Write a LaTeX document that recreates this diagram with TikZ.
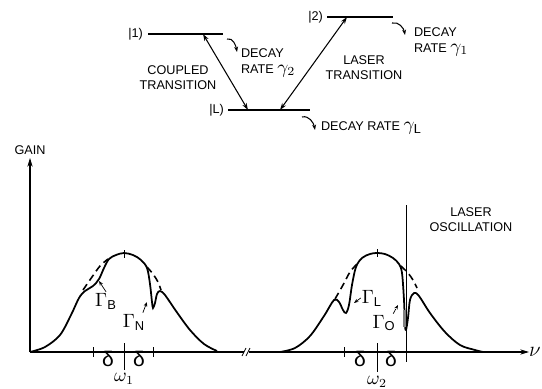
\documentclass[tikz,border=0pt]{standalone}
\usepackage{fontspec}
\setmainfont{Liberation Sans}
\usetikzlibrary{arrows.meta, positioning}

\newcommand{\bigmath}[1]{{\fontsize{10.5}{11}\selectfont$#1$}}

\begin{document}
\begin{tikzpicture}[
      x=0.02cm, y=-0.02cm,
      lbl/.style={font=\fontsize{7.2}{8.6}\selectfont, inner sep=1pt, align=center},
      gam/.style={font=\fontsize{10.5}{11}\selectfont, inner sep=0.5pt},
      sym/.style={font=\fontsize{12}{12}\selectfont, inner sep=0.5pt},
      level/.style={line width=0.9pt},
      trans/.style={{Stealth[length=4pt,width=2.6pt]}-{Stealth[length=4pt,width=2.6pt]}, semithick},
      decay/.style={-{Stealth[length=3pt,width=2.2pt]}, semithick},
      ptr/.style={-{Stealth[length=2.6pt,width=2pt]}, thin},
      axis/.style={semithick},
      curve/.style={line width=1pt, smooth, tension=0.55},
      guide/.style={line width=0.9pt, dash pattern=on 4pt off 2.5pt, smooth, tension=0.55}
    ]
    \useasboundingbox (0,0) rectangle (542,389);

    % energy levels
    \node[lbl, anchor=east] (k1) at (145,34) {|1)};
    \node[lbl, anchor=east] (k2) at (325,17) {|2)};
    \node[lbl, anchor=east] (kL) at (226,110) {|L)};
    \draw[level] (148,34) -- (223,34);
    \draw[level] (327,17) -- (393,17);
    \draw[level] (228,110) -- (310,110);

    \coordinate (c1) at (203,34);
    \coordinate (c2) at (347,17);
    \coordinate (cL1) at (248,110);
    \coordinate (cL2) at (280,110);
    \draw[trans] (c1) -- (cL1);
    \draw[trans] (c2) -- (cL2);

    \node[lbl] (coup) at (178,78) {COUPLED\\TRANSITION};
    \node[lbl] (las) at (364,68) {LASER\\TRANSITION};

    % decay rates
    \node[lbl, align=left, anchor=west] (dec2) at (239,63) {DECAY\\RATE \bigmath{\gamma_2}};
    \node[lbl, align=left, anchor=west] (dec1) at (412,42) {DECAY\\RATE \bigmath{\gamma_1}};
    \node[lbl, anchor=west] (decL) at (319,128) {DECAY RATE \bigmath{\gamma_{\mathsf{L}}}};
    \coordinate (s2) at (227,39);
    \coordinate (e2) at (237,52);
    \coordinate (s1) at (392,23);
    \coordinate (e1) at (405,35);
    \coordinate (sL) at (302,117);
    \coordinate (eL) at (315,130);
    \draw[decay] (s2) to[out=15,in=100] (e2);
    \draw[decay] (s1) to[out=15,in=100] (e1);
    \draw[decay] (sL) to[out=15,in=100] (eL);

    % gain axes
    \coordinate (O) at (30,352);
    \coordinate (ytop) at (30,158);
    \coordinate (b1) at (244,352);
    \coordinate (b2) at (249,352);
    \coordinate (xend) at (529,352);
    \draw[axis, -{Stealth[length=5pt,width=3pt]}] (O) -- (ytop);
    \draw[axis] (O) -- (b1);
    \draw[axis, -{Stealth[length=5pt,width=3pt]}] (b2) -- (xend);
    \draw[thin] (242,356) -- (246,348) (246,356) -- (250,348);
    \node[lbl, above=1pt of ytop] (gain) {GAIN};
    \node[sym] (nu) at (535,352) {$\nu$};

    % ticks
    \foreach \tx in {93,153,344} \draw[thin] (\tx,347) -- (\tx,357);
    \draw[thin] (124,343) -- (124,370);
    \draw[thin] (377,343) -- (377,372);
    \foreach \dx in {108,139,360,391} \node[sym] at (\dx,359) {δ};
    \node[gam] (w1) at (124,379) {$\omega_1$};
    \node[gam] (w2) at (377,382) {$\omega_2$};
    \draw[thin] (124,250) -- (124,258);
    \draw[thin] (377,249) -- (377,257);

    % first line
    \draw[curve] plot coordinates {(30,352) (45,347) (60,335) (71,315) (79,298) (85,291)
      (93,286) (99,279) (104,268) (109,259) (116,255) (124,253) (133,255) (141,260)
      (147,268) (150,284) (152,302) (153,308) (155,303) (157,294) (160,291) (165,295)
      (176,311) (190,330) (204,344) (217,351)};
    \draw[guide] plot coordinates {(83,290) (92,277) (100,266) (108,259)};
    \draw[guide] plot coordinates {(147,267) (153,274) (158,282) (161,290)};

    % second line
    \draw[curve] plot coordinates {(280,352) (295,348) (310,336) (324,316) (334,300)
      (339,302) (343,310) (346,313) (349,305) (352,285) (356,267) (362,258) (370,254)
      (377,253) (385,254) (393,258) (399,264) (402,273) (404,300) (405,325) (406,330)
      (408,318) (410,300) (414,293) (419,296) (430,313) (445,332) (460,345) (475,350)
      (483,352)};
    \draw[guide] plot coordinates {(335,299) (343,285) (350,272) (357,264)};
    \draw[guide] plot coordinates {(401,266) (408,273) (413,280) (417,288)};
    \draw[gray, line width=2pt] (405,310) -- (405,327);

    % laser oscillation
    \draw[thin] (406,205) -- (406,362);
    \node[lbl] (osc) at (471,220) {LASER\\OSCILLATION};

    % widths
    \node[gam] (gB) at (106,301) {$\Gamma$\textsubscript{B}};
    \node[gam] (gN) at (134,322) {$\Gamma$\textsubscript{N}};
    \node[gam] (gL) at (372,298) {$\Gamma$\textsubscript{L}};
    \node[gam] (gO) at (384,323) {$\Gamma$\textsubscript{O}};
    \coordinate (pB) at (99,281);
    \coordinate (pN) at (147,302);
    \coordinate (pL) at (354,303);
    \coordinate (pO) at (398,305);
    \draw[ptr] (gB.north) -- (pB);
    \draw[ptr] ([xshift=-2pt]gN.north east) -- (pN);
    \draw[ptr] (gL.west) -- (pL);
    \draw[ptr, densely dashed] ([xshift=-2pt]gO.north east) -- (pO);
  \end{tikzpicture}
\end{document}
